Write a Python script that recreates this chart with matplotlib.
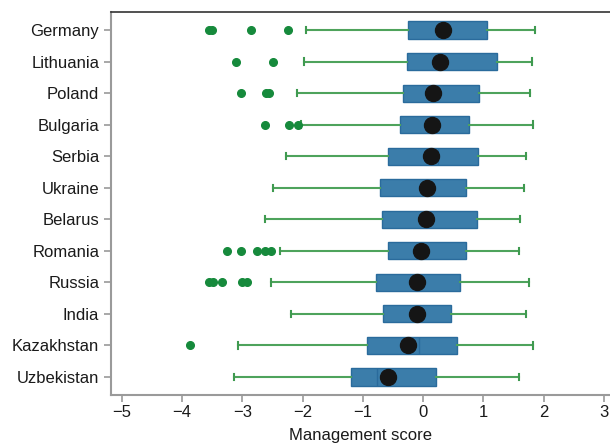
import matplotlib
matplotlib.use("Agg")
import matplotlib.pyplot as plt

plt.rcParams['font.family'] = ['Liberation Sans', 'DejaVu Sans']

countries = ["Germany", "Lithuania", "Poland", "Bulgaria", "Serbia", "Ukraine",
             "Belarus", "Romania", "Russia", "India", "Kazakhstan", "Uzbekistan"]
whislo = [-1.95, -1.98, -2.09, -2.02, -2.28, -2.50, -2.63, -2.37, -2.53, -2.20, -3.08, -3.14]
q1     = [-0.26, -0.27, -0.33, -0.38, -0.58, -0.71, -0.68, -0.58, -0.79, -0.66, -0.94, -1.19]
median = [0.33, 0.28, 0.17, 0.15, 0.25, 0.07, 0.05, -0.03, -0.10, -0.10, -0.07, -0.76]
q3     = [1.06, 1.22, 0.93, 0.76, 0.91, 0.71, 0.89, 0.71, 0.61, 0.46, 0.56, 0.22]
whishi = [1.85, 1.81, 1.77, 1.83, 1.71, 1.67, 1.61, 1.59, 1.76, 1.71, 1.83, 1.59]
means  = [0.33, 0.28, 0.17, 0.15, 0.13, 0.07, 0.05, -0.03, -0.10, -0.10, -0.25, -0.58]
outliers = [
    [-3.55, -3.50, -2.85, -2.24],
    [-3.10, -2.50],
    [-3.03, -2.60, -2.55],
    [-2.63, -2.23, -2.07],
    [],
    [],
    [],
    [-3.26, -3.03, -2.76, -2.62, -2.52],
    [-3.56, -3.48, -3.33, -3.00, -2.93],
    [],
    [-3.87],
    [],
]
xticks = [-5, -4, -3, -2, -1, 0, 1, 2, 3]

fig = plt.figure(figsize=(6.10, 4.47), dpi=100)
ax = fig.add_axes([111/610, 1 - 395/447, 1 - 111/610, (395 - 12)/447])

stats = []
for i in range(len(countries)):
    stats.append(dict(label=countries[i], whislo=whislo[i], q1=q1[i], med=median[i],
                      q3=q3[i], whishi=whishi[i], mean=means[i], fliers=outliers[i]))

positions = list(range(len(countries)))
ax.bxp(stats, positions=positions, vert=False, widths=0.54, patch_artist=True,
       showmeans=True, capwidths=0.2,
       boxprops=dict(facecolor='#3b7daa', edgecolor='#2a6b9c', linewidth=1.0),
       medianprops=dict(color='#2a6b9c', linewidth=1.0),
       whiskerprops=dict(color='#4ea35c', linewidth=1.5),
       capprops=dict(color='#3f9a50', linewidth=1.5),
       flierprops=dict(marker='o', markerfacecolor='#168a3c', markeredgecolor='#168a3c',
                       markersize=5.5),
       meanprops=dict(marker='o', markerfacecolor='#151515', markeredgecolor='#151515',
                      markersize=11.5))

ax.set_ylim(len(countries) - 0.43, -0.57)
ax.set_xlim(-5.18, 3.10)
ax.set_xticks(xticks)
ax.set_xticklabels([str(t).replace('-', '\u2212') for t in xticks])
ax.set_yticks(positions)
ax.set_yticklabels(countries)
ax.tick_params(axis='both', labelsize=12, length=5, width=1.2, color='#9a9a9a', labelcolor='#1a1a1a')
ax.tick_params(axis='x', pad=2)
ax.set_xlabel("Management score", fontsize=12, color='#1a1a1a', labelpad=6)

ax.spines['left'].set_color('#9a9a9a')
ax.spines['left'].set_linewidth(1.5)
ax.spines['bottom'].set_color('#9a9a9a')
ax.spines['bottom'].set_linewidth(1.5)
ax.spines['top'].set_color('#333333')
ax.spines['top'].set_linewidth(1.2)
ax.spines['right'].set_visible(False)

fig.savefig("out.png", dpi=100)
